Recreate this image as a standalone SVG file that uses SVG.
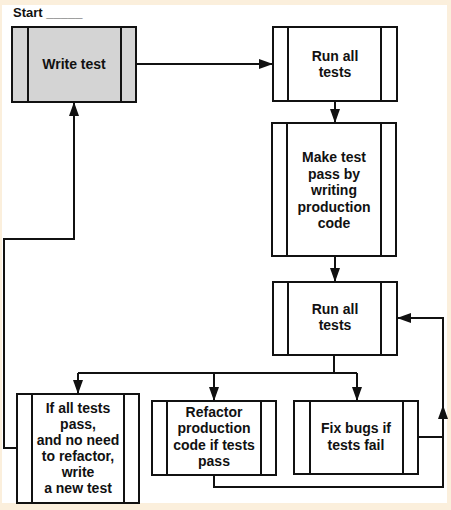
<svg xmlns="http://www.w3.org/2000/svg" width="451" height="510" viewBox="0 0 451 510">
<defs>
<style>
.box{fill:#ffffff;stroke:#111111;stroke-width:2}
.gray{fill:#d4d4d4}
.div{stroke:#111111;stroke-width:2;fill:none}
.t{font-family:"Liberation Sans",Arial,sans-serif;font-weight:bold;font-size:14px;fill:#111111;text-anchor:middle}
.ln{fill:none;stroke:#111111;stroke-width:2}
</style>
<marker id="ah" markerUnits="userSpaceOnUse" markerWidth="14" markerHeight="10" refX="14" refY="5" orient="auto" viewBox="0 0 14 10">
<path d="M0,0 L14,5 L0,10 z" fill="#111111"/>
</marker>
</defs>
<rect x="0" y="0" width="451" height="510" fill="#fbefdc"/>
<rect x="2" y="5" width="445" height="498" fill="#ffffff"/>
<text x="13" y="17" style="font-family:'Liberation Sans',Arial,sans-serif;font-weight:bold;font-size:13px;fill:#111111">Start <tspan fill="#555555">_____</tspan></text>

<g id="connectors">
<path class="ln" d="M136,64 L273,64" marker-end="url(#ah)"/>
<path class="ln" d="M335,101 L335,123" marker-end="url(#ah)"/>
<path class="ln" d="M335,256 L335,282" marker-end="url(#ah)"/>
<path class="ln" d="M334,355 L334,373"/>
<path class="ln" d="M78,373 L357,373"/>
<path class="ln" d="M78,373 L78,394" marker-end="url(#ah)"/>
<path class="ln" d="M214,373 L214,401" marker-end="url(#ah)"/>
<path class="ln" d="M357,373 L357,401" marker-end="url(#ah)"/>
<path class="ln" d="M214,475 L214,487 L443,487 L443,405" marker-end="url(#ah)"/>
<path class="ln" d="M418,437 L443,437"/>
<path class="ln" d="M443,406 L443,318 L397,318" marker-end="url(#ah)"/>
<path class="ln" d="M17,448 L4,448 L4,239 L74,239 L74,102" marker-end="url(#ah)"/>
</g>

<g id="write-test">
<rect class="box gray" x="12" y="27" width="124" height="75"/>
<path class="div" d="M28,27 V102 M121,27 V102"/>
<text class="t" x="74" y="69">Write test</text>
</g>

<g id="run-all-tests-1">
<rect class="box" x="273" y="27" width="124" height="74"/>
<path class="div" d="M288,27 V101 M381,27 V101"/>
<text class="t" x="335" y="61">Run all</text>
<text class="t" x="335" y="77">tests</text>
</g>

<g id="make-test-pass">
<rect class="box" x="272" y="123" width="124" height="133"/>
<path class="div" d="M287,123 V256 M381,123 V256"/>
<text class="t" x="334" y="162">Make test</text>
<text class="t" x="334" y="178.5">pass by</text>
<text class="t" x="334" y="195">writing</text>
<text class="t" x="334" y="211.5">production</text>
<text class="t" x="334" y="228">code</text>
</g>

<g id="run-all-tests-2">
<rect class="box" x="273" y="282" width="124" height="73"/>
<path class="div" d="M288,282 V355 M381,282 V355"/>
<text class="t" x="335" y="314">Run all</text>
<text class="t" x="335" y="330">tests</text>
</g>

<g id="write-new-test">
<rect class="box" x="17" y="394" width="122" height="109"/>
<path class="div" d="M32,394 V503 M124,394 V503"/>
<text class="t" x="78" y="413">If all tests</text>
<text class="t" x="78" y="429">pass,</text>
<text class="t" x="78" y="445">and no need</text>
<text class="t" x="78" y="461">to refactor,</text>
<text class="t" x="78" y="477">write</text>
<text class="t" x="78" y="493"> a new test</text>
</g>

<g id="refactor">
<rect class="box" x="152" y="401" width="124" height="74"/>
<path class="div" d="M167,401 V475 M261,401 V475"/>
<text class="t" x="214" y="416.5">Refactor</text>
<text class="t" x="214" y="433">production</text>
<text class="t" x="214" y="449.5">code if tests</text>
<text class="t" x="214" y="466">pass</text>
</g>

<g id="fix-bugs">
<rect class="box" x="294" y="401" width="124" height="73"/>
<path class="div" d="M310,401 V474 M403,401 V474"/>
<text class="t" x="356" y="433">Fix bugs if</text>
<text class="t" x="356" y="450">tests fail</text>
</g>
</svg>
